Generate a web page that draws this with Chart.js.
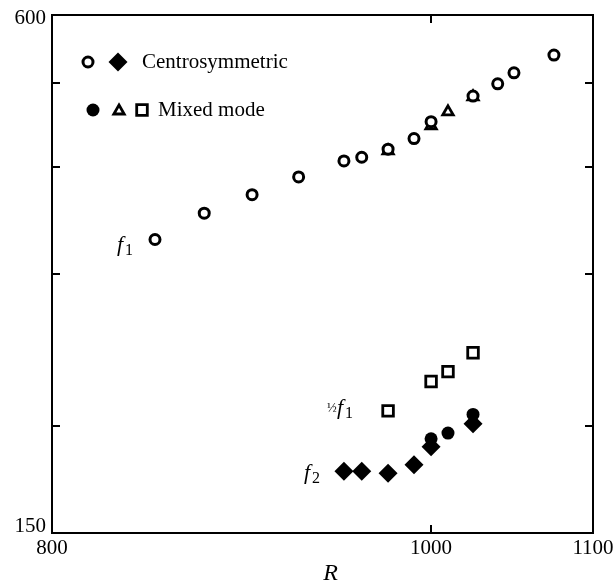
<!doctype html>
<html lang="en">
 <head>
  <meta charset="utf-8">
  <style>
body { margin: 0; background: #fff; }
#wrap { width: 616px; height: 588px; }
  </style>
  <title>f1, f2 against R</title>
 </head>
 <body>
  <div id="wrap"><canvas id="freqchart" width="616" height="588"></canvas></div>

  <script src="https://cdn.jsdelivr.net/npm/chart.js@4.4.1/dist/chart.umd.min.js"></script>
  <script>
// Reynolds numbers and measured frequencies
var rCentroF1 = [850, 875, 900, 925, 950, 960, 975, 990, 1000, 1025, 1040, 1050, 1075];
var centroF1 = [329, 353, 371, 389, 406, 410, 419, 431, 451, 483, 499, 514, 539];

var rCentroF2 = [950, 960, 975, 990, 1000, 1025];
var centroF2 = [177, 177, 176, 180, 189, 201];

var rMixedF1 = [975, 1000, 1010, 1025];
var mixedF1 = [417, 446, 463, 482];

var rMixedHalfF1 = [975, 1000, 1010, 1025];
var mixedHalfF1 = [208, 225, 231, 243];

var rMixedF2 = [1000, 1010, 1025];
var mixedF2 = [193, 196, 206];

// axis ticks and labels
var xTicks = [1000];
var yTicks = [200, 300, 400, 500];
var xTickLabels = [800, 1000, 1100];
var yTickLabels = [150, 600];

function pts(xs, ys) {
  return xs.map(function (x, i) { return { x: x, y: ys[i] }; });
}

var SERIF = '"Liberation Serif", "DejaVu Serif", serif';

var styles = {
  openCircle: { pointStyle: 'circle', radius: 5, borderWidth: 3, borderColor: '#000', backgroundColor: '#fff' },
  diamond: { pointStyle: 'rectRot', radius: 9.5, borderWidth: 0, borderColor: '#000', backgroundColor: '#000' },
  dot: { pointStyle: 'circle', radius: 6.5, borderWidth: 0, borderColor: '#000', backgroundColor: '#000' },
  triangle: { pointStyle: 'triangle', radius: 6, borderWidth: 2.8, borderColor: '#000', backgroundColor: '#fff' },
  square: { pointStyle: 'rect', radius: 7.5, borderWidth: 2.8, borderColor: '#000', backgroundColor: '#fff' }
};

function ds(label, data, st) {
  return {
    label: label,
    data: data,
    pointStyle: st.pointStyle,
    pointRadius: st.radius,
    pointHoverRadius: st.radius,
    pointBorderWidth: st.borderWidth,
    pointBorderColor: st.borderColor,
    pointBackgroundColor: st.backgroundColor,
    showLine: false
  };
}

// frame, inward ticks, tick labels, legend and curve names
var decor = {
  id: 'decor',
  afterDraw: function (chart) {
    var ctx = chart.ctx;
    var a = chart.chartArea;
    var xs = chart.scales.x, ys = chart.scales.y;
    ctx.save();
    ctx.strokeStyle = '#000';
    ctx.lineWidth = 2;
    ctx.strokeRect(a.left, a.top, a.right - a.left, a.bottom - a.top);

    ctx.beginPath();
    yTicks.forEach(function (v) {
      var y = Math.round(ys.getPixelForValue(v));
      ctx.moveTo(a.left, y); ctx.lineTo(a.left + 8, y);
      ctx.moveTo(a.right, y); ctx.lineTo(a.right - 8, y);
    });
    xTicks.forEach(function (v) {
      var x = Math.round(xs.getPixelForValue(v));
      ctx.moveTo(x, a.bottom); ctx.lineTo(x, a.bottom - 8);
      ctx.moveTo(x, a.top); ctx.lineTo(x, a.top + 8);
    });
    ctx.stroke();

    ctx.fillStyle = '#000';
    ctx.font = '21px ' + SERIF;
    ctx.textAlign = 'right';
    ctx.textBaseline = 'middle';
    yTickLabels.forEach(function (v, i) {
      var y = ys.getPixelForValue(v);
      ctx.fillText(String(v), a.left - 6, i === 0 ? y - 7 : y + 3);
    });
    ctx.textAlign = 'center';
    ctx.textBaseline = 'top';
    xTickLabels.forEach(function (v) {
      ctx.fillText(String(v), xs.getPixelForValue(v), a.bottom + 5);
    });

    ctx.font = 'italic 24px ' + SERIF;
    ctx.fillText('R', (a.left + a.right) / 2 + 8, a.bottom + 29);

    // legend
    var H = Chart.helpers;
    function mark(st, x, y) {
      var o = { pointStyle: st.pointStyle, radius: st.radius, borderWidth: st.borderWidth, rotation: 0 };
      ctx.fillStyle = st.backgroundColor;
      ctx.strokeStyle = st.borderColor;
      ctx.lineWidth = st.borderWidth;
      H.drawPoint(ctx, o, x, y);
    }
    mark(styles.openCircle, 88, 62);
    mark(styles.diamond, 118, 62);
    mark(styles.dot, 93, 110);
    mark(styles.triangle, 119, 111);
    mark(styles.square, 142, 110);
    ctx.fillStyle = '#000';
    ctx.font = '21px ' + SERIF;
    ctx.textAlign = 'left';
    ctx.textBaseline = 'middle';
    ctx.fillText('Centrosymmetric', 142, 62);
    ctx.fillText('Mixed mode', 158, 110);

    // curve names
    function fname(x, y, sub) {
      ctx.font = 'italic 22px ' + SERIF;
      ctx.textBaseline = 'alphabetic';
      ctx.textAlign = 'left';
      ctx.fillText('f', x, y);
      ctx.font = '16px ' + SERIF;
      ctx.fillText(sub, x + 8, y + 4);
    }
    fname(117, 251, '1');
    fname(304, 479, '2');
    ctx.font = '13px ' + SERIF;
    ctx.fillText('\u00bd', 327, 412);
    fname(337, 414, '1');
    ctx.restore();
  }
};

var chart = new Chart(document.getElementById('freqchart'), {
  type: 'scatter',
  data: {
    datasets: [
      ds('Centrosymmetric f1', pts(rCentroF1, centroF1), styles.openCircle),
      ds('Mixed mode f1', pts(rMixedF1, mixedF1), styles.triangle),
      ds('Mixed mode f1/2', pts(rMixedHalfF1, mixedHalfF1), styles.square),
      ds('Mixed mode f2', pts(rMixedF2, mixedF2), styles.dot),
      ds('Centrosymmetric f2', pts(rCentroF2, centroF2), styles.diamond)
    ]
  },
  options: {
    responsive: false,
    animation: false,
    events: [],
    layout: { padding: { left: 52, right: 23, top: 15, bottom: 55 } },
    scales: {
      x: {
        type: 'logarithmic',
        min: 800,
        max: 1100,
        grid: { display: false },
        border: { display: false },
        ticks: { display: false },
        afterFit: function (s) { s.height = 0; }
      },
      y: {
        type: 'logarithmic',
        min: 150,
        max: 600,
        grid: { display: false },
        border: { display: false },
        ticks: { display: false },
        afterFit: function (s) { s.width = 0; }
      }
    },
    plugins: {
      legend: { display: false },
      tooltip: { enabled: false }
    }
  },
  plugins: [decor]
});
  </script>
 </body>
</html>
